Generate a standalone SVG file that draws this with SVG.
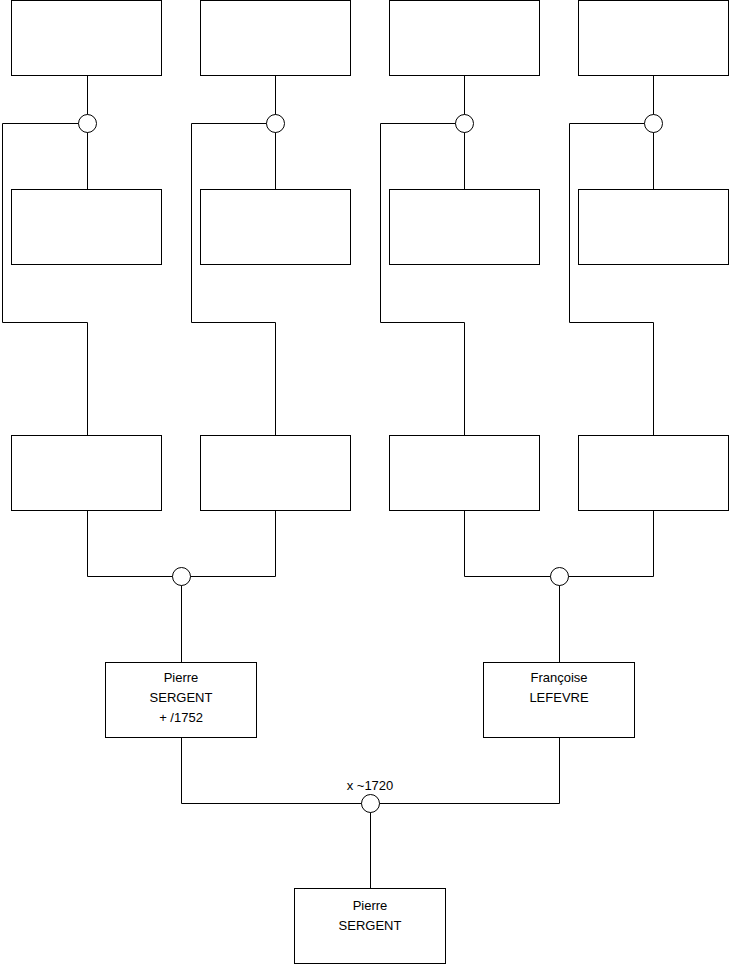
<svg xmlns="http://www.w3.org/2000/svg" width="740" height="975" viewBox="0 0 740 975">
<style>
.box{fill:#fff;stroke:#000;stroke-width:1}
.c{fill:#fff;stroke:#000;stroke-width:1}
.ln{fill:none;stroke:#000;stroke-width:1}
text{font-family:"Liberation Sans",Arial,sans-serif;font-size:13px;fill:#000;text-anchor:middle}
</style>
<rect width="740" height="975" fill="#fff"/>
<g id="connectors">
<path class="ln" d="M87.5 75.5V189.5M87.5 123.5H2.5V322.5H87.5V435.5"/>
<path class="ln" d="M275.5 75.5V189.5M275.5 123.5H191.5V322.5H275.5V435.5"/>
<path class="ln" d="M464.5 75.5V189.5M464.5 123.5H380.5V322.5H464.5V435.5"/>
<path class="ln" d="M653.5 75.5V189.5M653.5 123.5H569.5V322.5H653.5V435.5"/>
<path class="ln" d="M87.5 510.5V576.5H275.5V510.5M181.5 576.5V662.5"/>
<path class="ln" d="M464.5 510.5V576.5H653.5V510.5M559.5 576.5V662.5"/>
<path class="ln" d="M181.5 737.5V803.5H559.5V737.5M370.5 803.5V888.5"/>
</g>
<g id="n1"><rect class="box" x="11.5" y="0.5" width="150" height="75"/></g>
<g id="n2"><rect class="box" x="200.5" y="0.5" width="150" height="75"/></g>
<g id="n3"><rect class="box" x="389.5" y="0.5" width="150" height="75"/></g>
<g id="n4"><rect class="box" x="578.5" y="0.5" width="150" height="75"/></g>
<g id="u1"><circle class="c" cx="87.5" cy="123.5" r="9"/></g>
<g id="u2"><circle class="c" cx="275.5" cy="123.5" r="9"/></g>
<g id="u3"><circle class="c" cx="464.5" cy="123.5" r="9"/></g>
<g id="u4"><circle class="c" cx="653.5" cy="123.5" r="9"/></g>
<g id="n5"><rect class="box" x="11.5" y="189.5" width="150" height="75"/></g>
<g id="n6"><rect class="box" x="200.5" y="189.5" width="150" height="75"/></g>
<g id="n7"><rect class="box" x="389.5" y="189.5" width="150" height="75"/></g>
<g id="n8"><rect class="box" x="578.5" y="189.5" width="150" height="75"/></g>
<g id="n9"><rect class="box" x="11.5" y="435.5" width="150" height="75"/></g>
<g id="n10"><rect class="box" x="200.5" y="435.5" width="150" height="75"/></g>
<g id="n11"><rect class="box" x="389.5" y="435.5" width="150" height="75"/></g>
<g id="n12"><rect class="box" x="578.5" y="435.5" width="150" height="75"/></g>
<g id="u5"><circle class="c" cx="181.5" cy="576.5" r="9"/></g>
<g id="u6"><circle class="c" cx="559.5" cy="576.5" r="9"/></g>
<g id="pierre1"><rect class="box" x="105.5" y="662.5" width="151" height="75"/>
<text x="181" y="682">Pierre</text><text x="181" y="702">SERGENT</text><text x="181" y="722">+ /1752</text></g>
<g id="francoise"><rect class="box" x="483.5" y="662.5" width="151" height="75"/>
<text x="559" y="682">Françoise</text><text x="559" y="702">LEFEVRE</text></g>
<g id="u7"><circle class="c" cx="370.5" cy="803.5" r="9"/><text x="370" y="790">x ~1720</text></g>
<g id="pierre2"><rect class="box" x="294.5" y="888.5" width="151" height="75"/>
<text x="370" y="910">Pierre</text><text x="370" y="930">SERGENT</text></g>
</svg>
